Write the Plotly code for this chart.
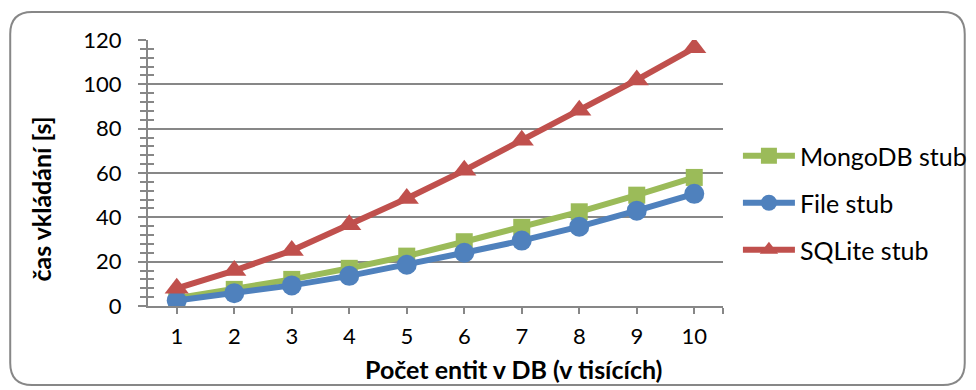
import plotly.graph_objects as go

categories = [1, 2, 3, 4, 5, 6, 7, 8, 9, 10]
mongo_stub = [3.5, 7.5, 12, 17, 22.5, 29, 35.5, 42.5, 50, 58]
file_stub = [2.5, 5.8, 9.3, 13.6, 18.6, 24, 29.5, 35.8, 43, 50.6]
sqlite_stub = [8, 16, 25, 36.7, 48.5, 61.2, 74.8, 88.3, 102, 116.5]
series_names = ["MongoDB stub", "File stub", "SQLite stub"]
y_title = "čas vkládání [s]"
x_title = "Počet entit v DB (v tisících)"

W, H = 976, 390
OFF = 8  # page body margin
PL, PR, PT, PB = 148 - OFF, 726 - OFF, 40 - OFF, 306 - OFF
FONT = "Lato"
GRAY = "#878787"


def px(x):
    return (x - OFF - PL) / (PR - PL)


def py(y):
    return (PB - (y - OFF)) / (PB - PT)


fig = go.Figure()
styles = [
    ("#9BBB59", "square", 17),
    ("#4F81BD", "circle", 20),
    ("#C0504D", "triangle-up", 21),
]
for name, vals, (col, sym, sz) in zip(series_names, [mongo_stub, file_stub, sqlite_stub], styles):
    fig.add_trace(go.Scatter(
        x=categories, y=vals, name=name, mode="lines+markers", legendgroup=name,
        line=dict(color=col, width=6),
        marker=dict(color=col, symbol=sym, size=sz, line=dict(width=0)),
        yaxis="y",
    ))

# invisible trace to activate the overlay axis (crossing minor ticks)
fig.add_trace(go.Scatter(x=[categories[0]], y=[0], yaxis="y2", showlegend=False,
                         mode="markers", marker=dict(opacity=0), hoverinfo="skip"))

tickvals = categories + [categories[-1] + 0.5]
ticktext = [str(c) for c in categories] + [""]

fig.update_layout(
    width=W, height=H,
    margin=dict(l=PL, r=W - PR, t=PT, b=H - PB),
    paper_bgcolor="white", plot_bgcolor="white",
    font=dict(family=FONT, size=22, color="#000000"),
    showlegend=True,
    legend=dict(x=px(741), y=py(133), xanchor="left", yanchor="top",
                font=dict(family=FONT, size=25), itemwidth=52,
                tracegroupgap=11.5, bgcolor="rgba(0,0,0,0)"),
    xaxis=dict(range=[0.5, 10.5], tickvals=tickvals, ticktext=ticktext,
               showgrid=False, showline=True, linecolor=GRAY, linewidth=2,
               ticks="outside", ticklen=6, tickwidth=2, tickcolor=GRAY,
               zeroline=False, tickfont=dict(family=FONT, size=22),
               ticklabelstandoff=4),
    yaxis=dict(range=[0, 120], dtick=20, showgrid=True, gridcolor=GRAY, gridwidth=2,
               showline=True, linecolor=GRAY, linewidth=2, zeroline=False,
               ticks="outside", ticklen=8, tickwidth=2, tickcolor=GRAY,
               minor=dict(dtick=4, ticks="outside", ticklen=6, tickwidth=2, tickcolor=GRAY,
                          showgrid=False),
               tickfont=dict(family=FONT, size=22), ticklabelstandoff=12),
    yaxis2=dict(range=[0, 120], overlaying="y", side="left", showgrid=False,
                showline=False, zeroline=False, showticklabels=False, dtick=20,
                ticks="inside", ticklen=6, tickwidth=2, tickcolor=GRAY,
                minor=dict(dtick=4, ticks="inside", ticklen=6, tickwidth=2, tickcolor=GRAY)),
)

fig.add_annotation(text="<b>" + x_title + "</b>", xref="paper", yref="paper",
                   x=px(515), y=py(369), xanchor="center", yanchor="middle",
                   showarrow=False, font=dict(family=FONT, size=25))
fig.add_annotation(text="<b>" + y_title + "</b>", xref="paper", yref="paper",
                   x=px(40), y=py(199), xanchor="center", yanchor="middle",
                   showarrow=False, textangle=-90,
                   font=dict(family=FONT, size=25))

# rounded chart border
x0, x1, y0, y1, r = 9.5, 969, 12, 385, 22
path = (f"M {px(x0 + r)} {py(y0)} L {px(x1 - r)} {py(y0)} "
        f"Q {px(x1)} {py(y0)} {px(x1)} {py(y0 + r)} "
        f"L {px(x1)} {py(y1 - r)} Q {px(x1)} {py(y1)} {px(x1 - r)} {py(y1)} "
        f"L {px(x0 + r)} {py(y1)} Q {px(x0)} {py(y1)} {px(x0)} {py(y1 - r)} "
        f"L {px(x0)} {py(y0 + r)} Q {px(x0)} {py(y0)} {px(x0 + r)} {py(y0)} Z")
fig.add_shape(type="path", path=path, xref="paper", yref="paper",
              line=dict(color=GRAY, width=2), layer="below")

fig.write_html("out.html")
